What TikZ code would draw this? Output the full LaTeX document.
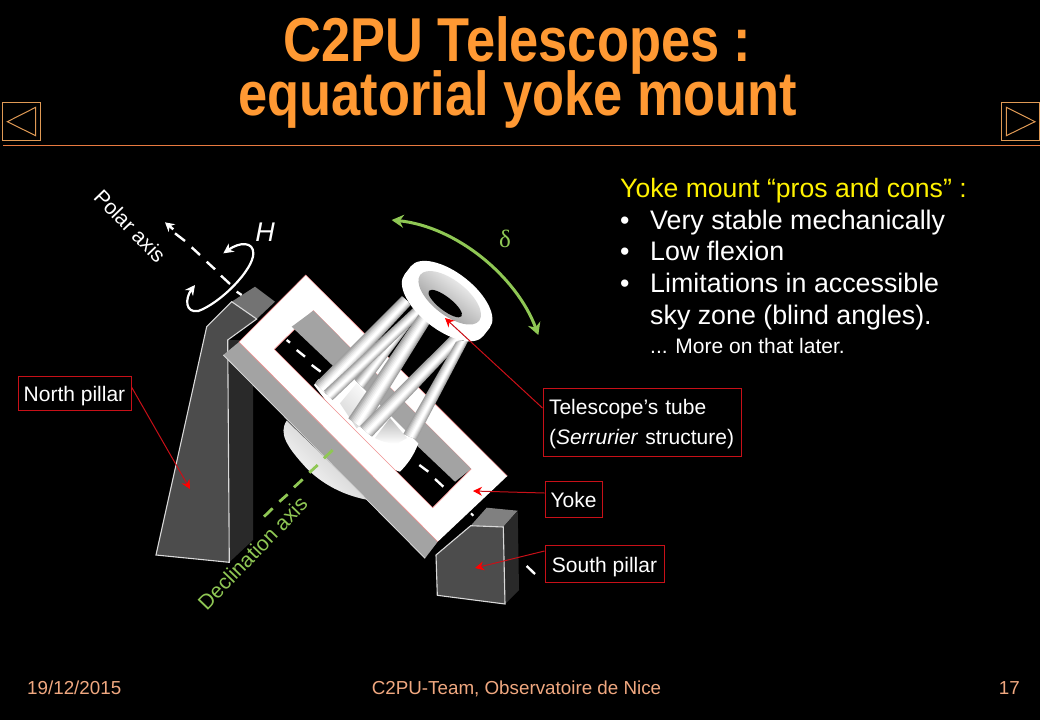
\documentclass[tikz,border=0pt]{standalone}
\usepackage{fontspec}
\usepackage{graphicx}
\setmainfont{Liberation Sans}
\newfontfamily\grk{Liberation Serif}
\usetikzlibrary{arrows.meta,calc}
\definecolor{orng}{HTML}{FF9933}
\definecolor{navc}{HTML}{E09A55}
\definecolor{rulec}{HTML}{E87A40}
\definecolor{grn}{HTML}{8FC754}
\definecolor{redl}{HTML}{C81018}
\definecolor{pink}{HTML}{F09090}
\definecolor{foot}{HTML}{F0A880}
\tikzset{
 titletext/.style={text=orng,font=\bfseries\fontsize{62}{62}\selectfont,inner sep=0pt},
 navbox/.style={draw=navc,line width=1pt},
 label box/.style={draw=redl,line width=1pt,text=white,font=\fontsize{21}{30}\selectfont,inner sep=0pt,align=left},
 one line/.style={text height=17pt,text depth=0pt},
 callout/.style={draw=redl,line width=1pt,-{Stealth[length=9pt,width=9pt,color=red]}},
 body/.style={text=white,font=\fontsize{26.8}{31}\selectfont,anchor=base west,inner sep=0pt},
 foottext/.style={text=foot,font=\fontsize{18.8}{20}\selectfont,inner sep=0pt},
 dashw/.style={white,line width=2.4pt},
 dashg/.style={grn,line width=2.8pt},
 pillarline/.style={draw=white!85!black,line width=1.1pt},
 zone/.style={shift={(140,170)},scale=1/3},
 zonetwo/.style={shift={(140,400)},scale=1/3},
}
% tapered bar with a soft highlight: corners of one end, corners of the other
\newcommand{\stbar}[4]{%
 \foreach \f/\c in {0/38,0.14/30,0.28/22,0.42/15,0.56/9,0.70/4,0.84/0}{%
  \fill[black!\c] ($(#1)!\f!($(#1)!0.6!(#2)$)$) -- ($(#2)!\f!($(#1)!0.6!(#2)$)$) -- ($(#3)!\f!($(#4)!0.6!(#3)$)$) -- ($(#4)!\f!($(#4)!0.6!(#3)$)$) -- cycle;
 }%
}
\begin{document}
\begin{tikzpicture}[x=1pt,y=-1pt]
\useasboundingbox (0,0) rectangle (1040,720);
\fill[black] (0,0) rectangle (1040,720);
% title
\node[titletext] (t1) at (517.5,45) {\scalebox{0.845}[1]{C2PU Telescopes :}};
\node[titletext] (t2) at (518,99) {\scalebox{0.845}[1]{equatorial yoke mount}};
% nav
\draw[navbox] (2.7,102.7) rectangle (40.3,140.3);
\draw[navbox] (7.3,121.7) -- (35.7,107.3) -- (35.7,135.7) -- cycle;
\draw[navbox] (1001.7,102.7) rectangle (1039.3,140.3);
\draw[navbox] (1006.3,107.3) -- (1006.3,135.7) -- (1035,121.7) -- cycle;
\draw[rulec,line width=1pt] (3,145.3) -- (1040,145.3);
% north pillar
\fill[black!84] (253,340) -- (253,540) -- (229.5,562) -- (227.7,340) -- cycle;
\fill[black!55] (231.7,301.7) -- (255,286.7) -- (275,301.7) -- (256.7,319) -- cycle;
\fill[black!70] (206.7,326.7) -- (231.7,301.7) -- (256.7,319) -- (227.7,340) -- (229.3,562.3) -- (156,555) -- cycle;
\draw[pillarline] (156,555) -- (206.7,326.7) -- (231.7,301.7) -- (256.7,319) -- (227.7,340) -- (229.3,562.3) -- cycle;
% bowl behind yoke
\begin{scope}[zonetwo]
\shade[left color=gray!50,middle color=gray!85,right color=white,shading angle=-45] (440,62) .. controls (415,100) and (440,140) .. (500,205) .. controls (560,265) and (630,290) .. (685,300) -- cycle;
\end{scope}
% yoke
\fill[black!36] (239,342) -- (223.3,355) -- (425,558.3) -- (437.7,541.7) -- cycle;
\draw[white!85!black,line width=0.8pt] (223.3,355) -- (425,558.3);
\fill[white,even odd rule] (305.7,275) -- (507.3,476) -- (437.7,541.7) -- (239,342) -- cycle
 (313.3,310.7) -- (471,469) -- (432.7,507.7) -- (274.3,349.3) -- cycle;
\draw[pink,line width=0.6pt] (507.3,476) -- (305.7,275) -- (239,342) -- (437.7,541.7);
\draw[pink,line width=0.7pt] (274.3,349.3) -- (313.3,310.7) -- (471,469);
\fill[black!36] (313.3,310.7) -- (471,469) -- (455,481.7) -- (291.7,326.7) -- cycle;
% dashes through window
\begin{scope}[zone]
\draw[dashw] (440,510) -- (450,518) (470,540) -- (495,560) (515,585) -- (542,605);
\end{scope}
\begin{scope}[zonetwo]
\draw[dashw] (838,195) -- (865,215) (885,237) -- (910,260) (1160,498) -- (1185,522);
\draw[dashw,line width=2pt] (993,340) -- (1000,347);
\end{scope}
% tube
\begin{scope}[zone]
% base of the tube
\fill[white] (522,645) -- (535,628) -- (640,625) -- (835,820) .. controls (820,860) and (800,885) .. (780,905) -- (700,880) -- cycle;
\shade[left color=white,right color=gray!30,shading angle=-45] (650,640) -- (720,720) -- (650,775) -- (600,700) -- cycle;
\shade[left color=gray!55,right color=white,shading angle=0] (705,804) -- (750,744) -- (801,804) -- (774,819) .. controls (750,822) and (725,815) .. (705,804) -- cycle;
% back struts
\stbar{645,630}{672,655}{838,432}{820,416}
% front struts
\stbar{525,640}{562,675}{812,405}{786,378}
\stbar{552,662}{578,690}{845,435}{822,412}
\stbar{625,745}{672,778}{872,455}{838,430}
\stbar{660,768}{696,800}{968,512}{938,492}
\stbar{790,792}{830,808}{985,512}{948,515}
% ring
\begin{scope}[rotate around={-38:(931,381)}]
\shade[left color=white,middle color=gray!55,right color=white,shading angle=-38] (781,381) -- (781,412) .. controls (781,452) and (848,484) .. (931,484) .. controls (1014,484) and (1081,452) .. (1081,412) -- (1081,381) -- cycle;
\fill[white] (931,381) ellipse [x radius=150,y radius=72];
\shade[left color=white,middle color=gray!65,right color=gray!90,shading angle=-38] (931,384) ellipse [x radius=112,y radius=52];
\fill[black] (931,406) ellipse [x radius=62,y radius=20];
\end{scope}
\end{scope}
% front arm edge of the window over the tube
\draw[pink,line width=0.7pt] (274.3,349.3) -- (432.7,507.7) -- (471,469);
% south pillar
\fill[black!50] (470.7,525.7) -- (486.7,507.7) -- (517.7,510.7) -- (503.3,527) -- cycle;
\fill[black!84] (517.7,510.7) -- (519,590) -- (505,604) -- (503.3,527) -- cycle;
\fill[black!70] (436,555) -- (470.7,525.7) -- (503.3,527) -- (505,604) -- (437.3,595.3) -- cycle;
\draw[pillarline] (437.3,595.3) -- (436,555) -- (470.7,525.7) -- (503.3,527) -- (505,604) -- cycle;
% polar axis
\begin{scope}[zone]
\coordinate (ptip) at (75,157);
\coordinate (pstart) at (100,178);
\draw[white,line width=2.4pt,-{Stealth[length=9pt,width=10pt]}] (pstart) -- (ptip);
\draw[dashw] (105,190) -- (135,213) (155,232) -- (180,255) (200,275) -- (225,298) (243,317) -- (270,342) (290,365) -- (305,375);
\coordinate (ha) at (340,250);
\coordinate (hb) at (250,250);
\coordinate (hc) at (165,345);
\draw[white,line width=2.2pt,{Stealth[length=10pt,width=10pt]}-{Stealth[length=10pt,width=10pt]}] (hb) .. controls (300,215) and (340,215) .. (ha) .. controls (340,300) and (240,400) .. (175,423) .. controls (135,430) and (135,385) .. (hc);
\end{scope}
% delta arc
\begin{scope}[zone]
\coordinate (da) at (755,150);
\coordinate (db) at (1195,495);
\draw[grn,line width=3pt,{Stealth[length=12pt,width=13pt]}-{Stealth[length=12pt,width=13pt]}] (da) .. controls (950,170) and (1130,320) .. (db);
\end{scope}
% decl dashes
\begin{scope}[zonetwo]
\draw[dashg] (372,350) -- (398,325) (418,305) -- (443,283) (462,262) -- (488,238) (508,218) -- (533,195) (552,175) -- (578,150);
\end{scope}
% axis texts
\node[text=white,font=\fontsize{21}{22}\selectfont,rotate=-46,inner sep=0pt] (pol) at (130,226) {Polar axis};
\node[text=white,font=\itshape\fontsize{27}{28}\selectfont,inner sep=0pt] (h) at (265,232) {H};
\node[text=grn,font=\grk\fontsize{25}{25}\selectfont,inner sep=0pt] (dl) at (505,239) {δ};
\node[text=grn,font=\fontsize{21}{22}\selectfont,rotate=46,inner sep=0pt] (dec) at (252.5,553) {Declination axis};
% right text
\node[text=yellow,font=\fontsize{26.6}{31}\selectfont,anchor=base west,inner sep=0pt] (y0) at (620,197) {Yoke mount “pros and cons” :};
\node[body] (b1) at (620,229) {•};\node[body] (y1) at (650,229) {Very stable mechanically};
\node[body] (b2) at (620,260) {•};\node[body] (y2) at (650,260) {Low flexion};
\node[body] (b3) at (620,292) {•};\node[body] (y3) at (650,292) {Limitations in accessible};
\node[body] (y4) at (650,324) {sky zone (blind angles).};
\node[text=white,font=\fontsize{21}{22}\selectfont,anchor=base west,inner sep=0pt] (y5) at (650,353) {... More on that later.};
% labels
\node[label box,one line,minimum width=113pt,minimum height=34pt] (np) at (74.5,393) {North pillar};
\node[label box,minimum width=198pt,minimum height=68pt,text width=186pt] (tt) at (642,422) {\raisebox{-4pt}[12pt][6pt]{Telescope’s tube}\\\raisebox{-4pt}[12pt][6pt]{(\textit{Serrurier} structure)}};
\node[label box,one line,minimum width=57pt,minimum height=36pt] (yk) at (573.5,499) {Yoke};
\node[label box,one line,minimum width=119pt,minimum height=37pt] (sp) at (604.5,563.5) {South pillar};
\coordinate (npt) at (190,489);
\coordinate (ttt) at (445,318);
\coordinate (ykt) at (473,491);
\coordinate (spt) at (475,568);
\draw[callout] ($(np.east)+(0,-6)$) -- (npt);
\draw[callout] ($(tt.west)+(0,-14)$) -- (ttt);
\draw[callout] ($(yk.west)+(0,-6)$) -- (ykt);
\draw[callout] ($(sp.west)+(0,-12.5)$) -- (spt);
% footer
\node[foottext,anchor=base west] (f1) at (27,694) {19/12/2015};
\node[foottext,anchor=base] (f2) at (516.5,694) {C2PU-Team, Observatoire de Nice};
\node[foottext,anchor=base east] (f3) at (1020,694) {17};
\end{tikzpicture}
\end{document}
